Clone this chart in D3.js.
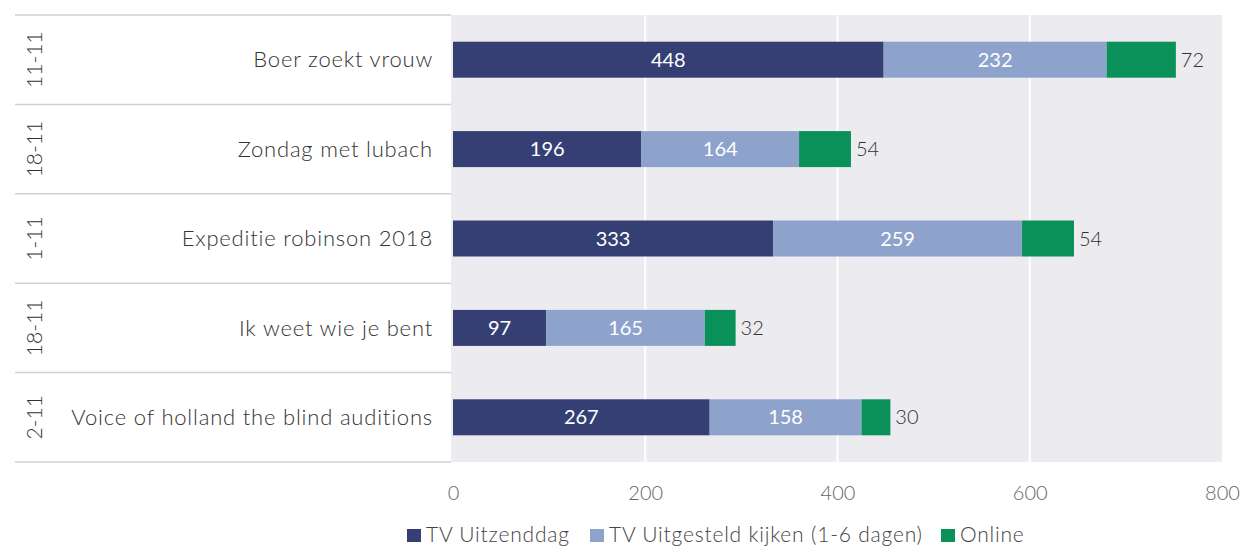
<!DOCTYPE html>
<html>
<head>
<meta charset="utf-8">
<script src="https://d3js.org/d3.v7.min.js"></script>
<style>
  body { margin: 0; background: #fff; }
  svg { font-family: Lato, "Open Sans", sans-serif; }
</style>
</head>
<body>
<div id="chart"></div>
<script>
// data
const programmes = ["Boer zoekt vrouw", "Zondag met lubach", "Expeditie robinson 2018", "Ik weet wie je bent", "Voice of holland the blind auditions"];
const dates = ["11-11", "18-11", "1-11", "18-11", "2-11"];
const uitzenddag = [448, 196, 333, 97, 267];
const uitgesteld = [232, 164, 259, 165, 158];
const online = [72, 54, 54, 32, 30];
const seriesNames = ["TV Uitzenddag", "TV Uitgesteld kijken (1-6 dagen)", "Online"];
const xTicks = [0, 200, 400, 600, 800];

const colors = ["#353f74", "#8ea3cc", "#0a9159"];

const width = 1243, height = 550;
const plotLeft = 453, plotRight = 1222, plotTop = 15, plotBottom = 462;

const svg = d3.select("#chart")
  .append("svg")
  .attr("width", width)
  .attr("height", height);

const x = d3.scaleLinear()
  .domain([0, 800])
  .range([plotLeft, plotRight]);

const y = d3.scaleBand()
  .domain(d3.range(programmes.length))
  .range([plotTop, plotBottom]);

// grey plot panel
svg.append("rect")
  .attr("x", 451)
  .attr("y", plotTop)
  .attr("width", plotRight - 451)
  .attr("height", plotBottom - plotTop)
  .attr("fill", "#ebebf0");

// vertical gridlines
svg.selectAll("line.grid")
  .data(xTicks.slice(1, -1))
  .join("line")
  .attr("class", "grid")
  .attr("x1", d => x(d))
  .attr("x2", d => x(d))
  .attr("y1", plotTop)
  .attr("y2", plotBottom)
  .attr("stroke", "#fff")
  .attr("stroke-width", 2);

// row separators in the label panel
svg.selectAll("line.sep")
  .data(d3.range(programmes.length + 1))
  .join("line")
  .attr("class", "sep")
  .attr("x1", 15)
  .attr("x2", 451)
  .attr("y1", d => d < programmes.length ? y(d) : plotBottom)
  .attr("y2", d => d < programmes.length ? y(d) : plotBottom)
  .attr("stroke", "#cfcfcf")
  .attr("stroke-width", 1.5);

// stacked data
const rows = programmes.map((p, i) => ({ i, vals: [uitzenddag[i], uitgesteld[i], online[i]] }));
const stack = d3.stack().keys([0, 1, 2]).value((d, k) => d.vals[k]);
const layers = stack(rows);

const barH = 36;
const g = svg.selectAll("g.layer")
  .data(layers)
  .join("g")
  .attr("class", "layer")
  .attr("fill", (d, k) => colors[k]);

g.selectAll("rect")
  .data(d => d)
  .join("rect")
  .attr("x", d => x(d[0]))
  .attr("width", d => x(d[1]) - x(d[0]))
  .attr("y", d => y(d.data.i) + y.bandwidth() / 2 - barH / 2)
  .attr("height", barH);

// value labels inside the first two segments
layers.slice(0, 2).forEach(layer => {
  svg.append("g").selectAll("text")
    .data(layer)
    .join("text")
    .attr("x", d => (x(d[0]) + x(d[1])) / 2)
    .attr("y", d => y(d.data.i) + y.bandwidth() / 2)
    .attr("dy", "0.35em")
    .attr("text-anchor", "middle")
    .attr("font-size", "20px")
    .attr("fill", "#fff")
    .text(d => d[1] - d[0]);
});

// online values outside the bar
svg.append("g").selectAll("text")
  .data(layers[2])
  .join("text")
  .attr("x", d => x(d[1]) + 5)
  .attr("y", d => y(d.data.i) + y.bandwidth() / 2)
  .attr("dy", "0.35em")
  .attr("font-size", "20px")
  .attr("font-weight", 300)
  .attr("fill", "#333")
  .text(d => d[1] - d[0]);

// programme names
svg.append("g").selectAll("text")
  .data(programmes)
  .join("text")
  .attr("x", 433)
  .attr("y", (d, i) => y(i) + y.bandwidth() / 2)
  .attr("dy", "0.35em")
  .attr("text-anchor", "end")
  .attr("font-size", "22px")
  .attr("font-weight", 300)
  .attr("letter-spacing", "0.8px")
  .attr("fill", "#333")
  .text(d => d);

// dates, rotated
svg.append("g").selectAll("text")
  .data(dates)
  .join("text")
  .attr("transform", (d, i) => `translate(35,${y(i) + y.bandwidth() / 2}) rotate(-90)`)
  .attr("dy", "0.35em")
  .attr("text-anchor", "middle")
  .attr("font-size", "21px")
  .attr("font-weight", 300)
  .attr("fill", "#333")
  .text(d => d);

// x axis
const xAxis = svg.append("g")
  .attr("transform", `translate(0,${plotBottom})`)
  .call(d3.axisBottom(x).tickValues(xTicks).tickSize(0).tickPadding(24));
xAxis.select(".domain").remove();
xAxis.selectAll("text")
  .attr("font-family", "Lato, sans-serif")
  .attr("font-size", "20px")
  .attr("font-weight", 300)
  .attr("fill", "#666");

// legend
const legendX = [407, 590, 941];
const legend = svg.append("g").selectAll("g")
  .data(seriesNames)
  .join("g")
  .attr("transform", (d, i) => `translate(${legendX[i]},535)`);
legend.append("rect")
  .attr("x", 0)
  .attr("y", -6)
  .attr("width", 14)
  .attr("height", 13)
  .attr("fill", (d, i) => colors[i]);
legend.append("text")
  .attr("x", 19)
  .attr("dy", "0.35em")
  .attr("font-size", "21px")
  .attr("font-weight", 300)
  .attr("letter-spacing", "0.8px")
  .attr("fill", "#444")
  .text(d => d);
</script>
</body>
</html>
